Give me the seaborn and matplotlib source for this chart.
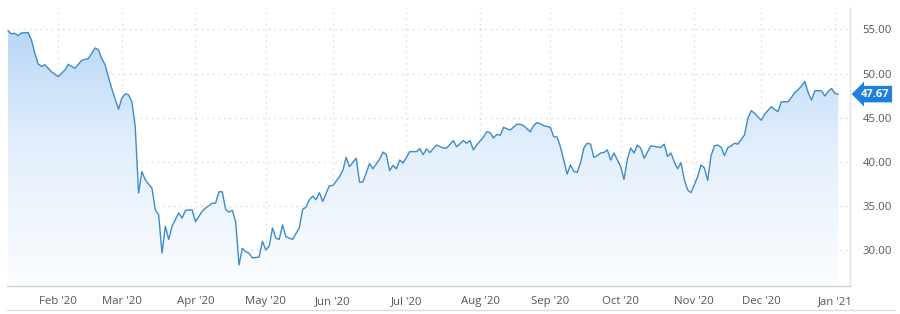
import numpy as np
import pandas as pd
import matplotlib
matplotlib.use("Agg")
import matplotlib.pyplot as plt
import seaborn as sns
from matplotlib.colors import LinearSegmentedColormap
from matplotlib.lines import Line2D

# ---------------- data ----------------
dates = [
    "2020-01-10", "2020-01-13", "2020-01-14", "2020-01-15", "2020-01-16", "2020-01-21", "2020-01-22",
    "2020-01-23", "2020-01-24", "2020-01-27", "2020-01-28", "2020-01-30", "2020-02-03", "2020-02-05",
    "2020-02-06", "2020-02-10", "2020-02-12", "2020-02-14", "2020-02-18", "2020-02-19", "2020-02-20",
    "2020-02-21", "2020-02-24", "2020-02-25", "2020-02-26", "2020-02-28", "2020-03-02", "2020-03-03",
    "2020-03-04", "2020-03-05", "2020-03-06", "2020-03-09", "2020-03-10", "2020-03-11", "2020-03-13",
    "2020-03-16", "2020-03-17", "2020-03-18", "2020-03-19", "2020-03-20", "2020-03-23", "2020-03-25",
    "2020-03-26", "2020-03-27", "2020-03-31", "2020-04-01", "2020-04-03", "2020-04-06", "2020-04-08",
    "2020-04-09", "2020-04-13", "2020-04-14", "2020-04-15", "2020-04-16", "2020-04-17", "2020-04-20",
    "2020-04-21", "2020-04-22", "2020-04-23", "2020-04-24", "2020-04-27", "2020-04-29", "2020-04-30",
    "2020-05-01", "2020-05-04", "2020-05-05", "2020-05-06", "2020-05-07", "2020-05-08", "2020-05-11",
    "2020-05-13", "2020-05-15", "2020-05-18", "2020-05-19", "2020-05-20", "2020-05-21", "2020-05-22",
    "2020-05-26", "2020-05-27", "2020-05-29", "2020-06-01", "2020-06-03", "2020-06-04", "2020-06-05",
    "2020-06-08", "2020-06-10", "2020-06-11", "2020-06-12", "2020-06-16", "2020-06-17", "2020-06-19",
    "2020-06-22", "2020-06-23", "2020-06-24", "2020-06-25", "2020-06-26", "2020-06-29", "2020-06-30",
    "2020-07-02", "2020-07-07", "2020-07-08", "2020-07-09", "2020-07-10", "2020-07-13", "2020-07-15",
    "2020-07-17", "2020-07-20", "2020-07-22", "2020-07-23", "2020-07-27", "2020-07-28", "2020-07-29",
    "2020-07-30", "2020-07-31", "2020-08-04", "2020-08-05", "2020-08-06", "2020-08-07", "2020-08-10",
    "2020-08-11", "2020-08-12", "2020-08-14", "2020-08-18", "2020-08-19", "2020-08-20", "2020-08-24",
    "2020-08-25", "2020-08-26", "2020-08-27", "2020-08-28", "2020-08-31", "2020-09-01", "2020-09-02",
    "2020-09-03", "2020-09-04", "2020-09-08", "2020-09-09", "2020-09-10", "2020-09-11", "2020-09-14",
    "2020-09-15", "2020-09-16", "2020-09-17", "2020-09-18", "2020-09-21", "2020-09-22", "2020-09-23",
    "2020-09-24", "2020-09-25", "2020-09-28", "2020-09-29", "2020-10-01", "2020-10-02", "2020-10-05",
    "2020-10-06", "2020-10-07", "2020-10-08", "2020-10-09", "2020-10-12", "2020-10-14", "2020-10-15",
    "2020-10-19", "2020-10-20", "2020-10-21", "2020-10-22", "2020-10-23", "2020-10-26", "2020-10-27",
    "2020-10-28", "2020-10-29", "2020-10-30", "2020-11-02", "2020-11-03", "2020-11-04", "2020-11-05",
    "2020-11-06", "2020-11-09", "2020-11-10", "2020-11-11", "2020-11-12", "2020-11-13", "2020-11-16",
    "2020-11-17", "2020-11-18", "2020-11-19", "2020-11-23", "2020-11-24", "2020-11-25", "2020-11-27",
    "2020-12-01", "2020-12-02", "2020-12-04", "2020-12-07", "2020-12-08", "2020-12-09", "2020-12-11",
    "2020-12-14", "2020-12-15", "2020-12-16", "2020-12-17", "2020-12-18", "2020-12-21", "2020-12-22",
    "2020-12-23", "2020-12-28", "2020-12-29", "2020-12-30", "2020-12-31", "2021-01-04", "2021-01-05",
]
prices = [
    54.86, 54.50, 54.57, 54.30, 54.60, 54.65, 53.80,
    52.30, 51.10, 50.80, 51.00, 50.20, 49.65, 50.40,
    51.05, 50.60, 51.50, 51.70, 52.30, 52.90, 52.70,
    51.70, 51.00, 49.60, 48.30, 45.96, 47.20, 47.70,
    47.60, 46.80, 44.00, 36.45, 38.90, 37.95, 37.00,
    34.55, 34.00, 29.65, 32.70, 31.20, 32.70, 34.20,
    33.60, 34.50, 34.55, 33.20, 34.40, 34.75, 35.30,
    35.30, 36.60, 36.60, 34.60, 34.30, 34.50, 33.20,
    28.30, 30.20, 29.80, 29.65, 29.10, 29.20, 31.00,
    30.00, 30.40, 32.50, 31.35, 31.20, 32.85, 31.50,
    31.20, 32.50, 34.60, 34.85, 35.70, 36.10, 35.70,
    36.50, 35.50, 37.30, 37.30, 38.30, 39.00, 40.50,
    39.45, 40.40, 37.70, 37.70, 39.80, 39.20, 40.30,
    41.10, 40.80, 39.00, 39.60, 39.20, 40.20, 39.85,
    41.15, 41.15, 41.50, 40.80, 41.45, 41.05, 41.90,
    41.55, 41.55, 42.40, 41.70, 42.40, 42.10, 42.40,
    41.35, 41.90, 42.80, 43.40, 43.30, 42.70, 43.10,
    43.00, 43.90, 43.60, 44.25, 44.25, 44.10, 43.40,
    44.10, 44.45, 44.30, 44.10, 44.00, 43.90, 42.85,
    42.80, 41.70, 40.20, 38.60, 39.65, 38.90, 38.80,
    39.85, 41.55, 42.10, 42.00, 40.50, 40.70, 41.00,
    41.05, 41.35, 40.20, 41.00, 39.45, 38.00, 40.30,
    41.55, 41.00, 41.90, 41.55, 40.40, 41.80, 41.75,
    41.60, 42.00, 40.60, 41.00, 40.00, 39.20, 39.90,
    38.00, 36.80, 36.50, 37.40, 38.30, 39.65, 39.30,
    37.90, 40.70, 41.80, 41.90, 41.65, 40.70, 41.60,
    41.80, 42.10, 42.00, 43.05, 44.95, 45.80, 45.50,
    44.70, 45.40, 46.25, 45.90, 45.70, 46.80, 46.80,
    47.30, 47.85, 48.15, 48.60, 49.10, 47.85, 47.00,
    48.05, 48.05, 47.45, 48.00, 48.30, 47.75, 47.67,
]
holidays = ["2020-01-20", "2020-02-17", "2020-04-10", "2020-05-25", "2020-07-03",
            "2020-09-07", "2020-11-26", "2020-12-25", "2021-01-01"]
tick_dates = ["2020-02-03", "2020-03-02", "2020-04-01", "2020-05-01", "2020-06-01", "2020-07-01",
              "2020-08-03", "2020-09-01", "2020-10-01", "2020-11-02", "2020-12-01", "2021-01-04"]
tick_labels = ["Feb '20", "Mar '20", "Apr '20", "May '20", "Jun '20", "Jul '20",
               "Aug '20", "Sep '20", "Oct '20", "Nov '20", "Dec '20", "Jan '21"]
y_ticks = [30, 35, 40, 45, 50, 55]
last_label = "47.67"

# ---------------- layout ----------------
W, H = 900, 314
sns.set_theme(style="white")
plt.rcParams["font.family"] = ["Open Sans", "DejaVu Sans"]

fig = plt.figure(figsize=(W / 100, H / 100), dpi=100)
fig.patch.set_facecolor("white")
ax = fig.add_axes([7 / W, 28 / H, 843 / W, 278 / H])
ax.set_facecolor("white")

start = dates[0]
pos = np.busday_count(start, np.array(dates, dtype="datetime64[D]"), holidays=holidays)
tick_pos = np.busday_count(start, np.array(tick_dates, dtype="datetime64[D]"), holidays=holidays)
df = pd.DataFrame({"session": pos, "price": prices})

x0, x1 = -0.3, float(pos[-1]) + 3.5
y0, y1 = 25.92, 57.43
ax.set_xlim(x0, x1)
ax.set_ylim(y0, y1)

# gradient area under line
line_color = "#3d8cc9"
poly = ax.fill_between(df["session"], df["price"], y0, color="none", lw=0)
cmap = LinearSegmentedColormap.from_list("g", ["#fbfdff", "#e3effc", "#b2d2f5"])
grad = np.linspace(1, 0, 256).reshape(-1, 1)
im = ax.imshow(grad, extent=[x0, x1, y0, y1], aspect="auto", cmap=cmap,
               origin="upper", zorder=1, interpolation="bicubic")
clip = poly.get_paths()[0]
im.set_clip_path(clip, transform=ax.transData)

sns.lineplot(data=df, x="session", y="price", ax=ax, color=line_color,
             linewidth=1.0, zorder=3, estimator=None)

# grid
ax.set_yticks(y_ticks)
ax.set_xticks(tick_pos)
ax.set_xticklabels(tick_labels)
ax.set_yticklabels([f"{v:.2f}" for v in y_ticks])
ax.grid(True, color="#d9d9d9", linestyle=(0, (1, 3)), linewidth=1.0, zorder=0)
ax.set_axisbelow(True)

ax.yaxis.tick_right()
ax.tick_params(axis="y", length=0, pad=9, labelsize=8.2, labelcolor="#555555")
ax.tick_params(axis="x", length=3, width=0.8, color="#cccccc", pad=4,
               labelsize=8.2, labelcolor="#555555", direction="out")
ax.set_xlabel("")
ax.set_ylabel("")

for side in ["top", "left"]:
    ax.spines[side].set_visible(False)
ax.spines["bottom"].set_color("#cfcfcf")
ax.spines["right"].set_color("#e2e2e2")
ax.spines["bottom"].set_linewidth(1.0)
ax.spines["right"].set_linewidth(1.0)

# last value marker
ax.annotate(last_label, xy=(1.0, prices[-1]), xycoords=("axes fraction", "data"),
            xytext=(875 - 850, 0), textcoords="offset pixels",
            ha="center", va="center", color="white", fontsize=8, fontweight="bold",
            bbox=dict(boxstyle="larrow,pad=0.25", fc="#1f7fdc", ec="none"))

# bottom separator line
fig.add_artist(Line2D([7 / W, 895 / W], [4 / H, 4 / H], color="#dddddd", lw=1.0))

fig.savefig("out.png", dpi=100)
